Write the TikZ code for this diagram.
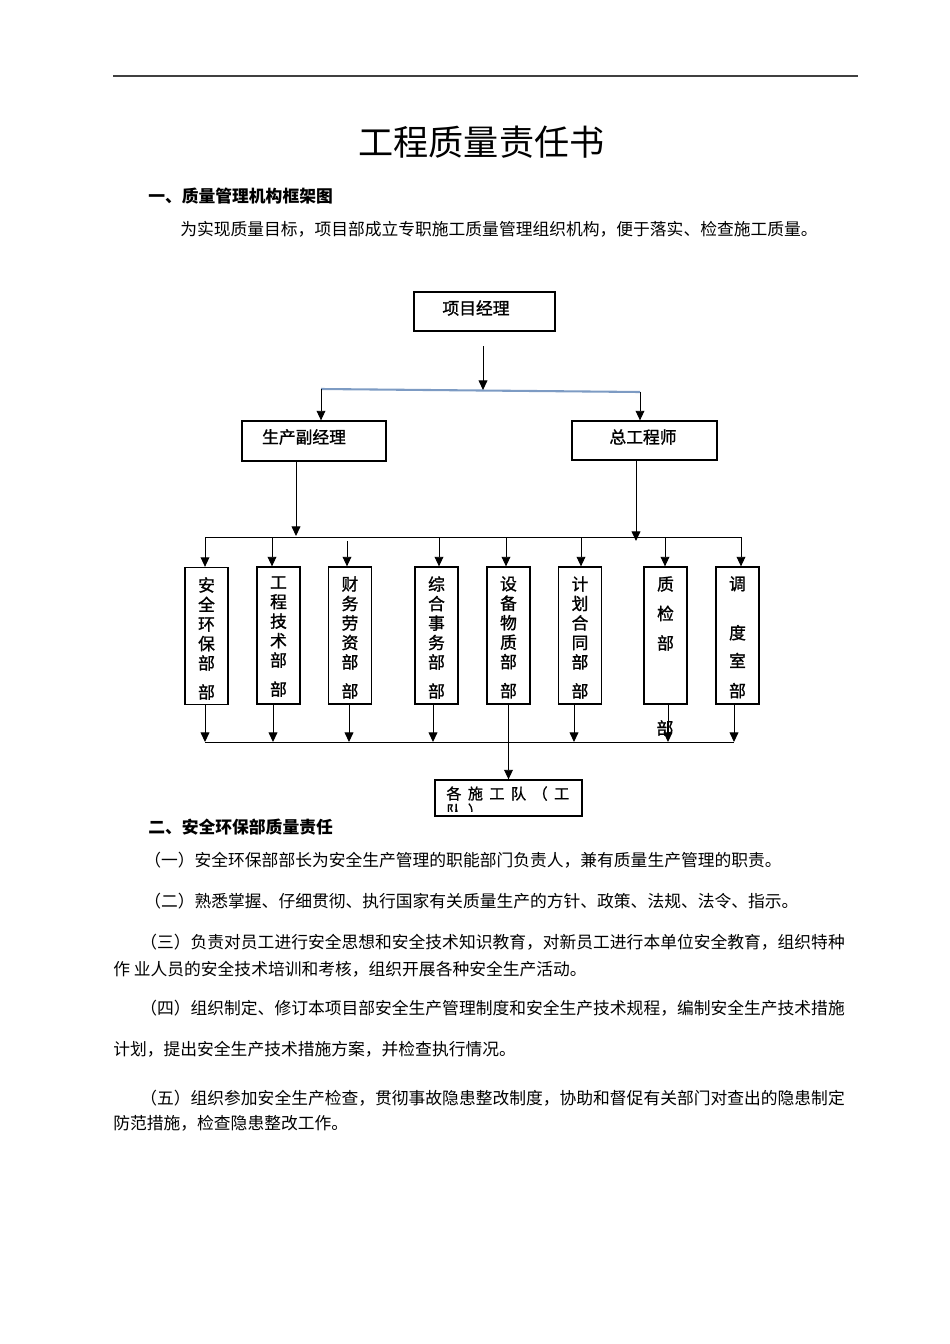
\documentclass[tikz,border=0pt]{standalone}
\usepackage{fontspec}
\setmainfont{Noto Sans CJK SC}
\usetikzlibrary{arrows.meta}
\def\PX{0.626pt}
\tikzset{
  arr/.style={line width=0.6pt, -{Triangle[length=6pt,width=5.5pt]}},
  conn/.style={line width=0.6pt},
  bluebar/.style={line width=1.3pt, draw={rgb,255:red,125;green,155;blue,195}},
  hbox/.style={draw, line width=0.8pt, inner sep=0pt},
  vbox/.style={draw, line width=0.8pt, inner sep=0pt, minimum width={43*\PX}, minimum height={137*\PX}},
  lbl/.style={inner sep=0pt, font=\fontsize{10.5pt}{12.6pt}\selectfont\addfontfeature{FakeBold=1.2}},
  vlbl/.style={inner sep=0pt, anchor=north, align=center, font=\fontsize{10.5pt}{12.2pt}\selectfont\addfontfeature{FakeBold=1.2}},
  body/.style={inner sep=0pt, anchor=west, font=\fontsize{10.5pt}{12.6pt}\selectfont},
  head/.style={inner sep=0pt, anchor=west, font=\fontsize{10.5pt}{12.6pt}\selectfont\bfseries},
}
\begin{document}
\begin{tikzpicture}[x=0.626pt, y=-0.626pt]
\useasboundingbox (0,0) rectangle (950,1344);
% top rule
\coordinate (r1) at (113,76);
\coordinate (r2) at (858,76);
\draw[line width=1.2pt, draw=black!75] (r1) -- (r2);
% title and headings
\node[inner sep=0pt, font=\fontsize{22pt}{26pt}\selectfont] (title) at (481.5,142) {工程质量责任书};
\node[head] (h1) at (148,196) {一、质量管理机构框架图};
\node[body] (p0) at (180,229) {为实现质量目标，项目部成立专职施工质量管理组织机构，便于落实、检查施工质量。};

% boxes
\node[hbox, minimum width={141*\PX}, minimum height={39*\PX}] (pm) at (484.5,311.5) {};
\node[lbl] (pmt) at (476,308) {项目经理};
\node[hbox, minimum width={144*\PX}, minimum height={40*\PX}] (dep) at (314,441) {};
\node[lbl] (dept) at (304,437) {生产副经理};
\node[hbox, minimum width={145*\PX}, minimum height={39*\PX}] (ce) at (644.5,440.5) {};
\node[lbl] (cet) at (643,437) {总工程师};

\node[vbox] (b1) at (206.5,636) {};
\node[vbox] (b2) at (278.5,635.5) {};
\node[vbox] (b3) at (350,635.5) {};
\node[vbox] (b4) at (436.5,635.5) {};
\node[vbox] (b5) at (508.5,635.5) {};
\node[vbox] (b6) at (580,635.5) {};
\node[vbox] (b7) at (665.5,635.5) {};
\node[vbox] (b8) at (737.5,635.5) {};

\node[vlbl] (b1t) at (206.5,577) {安\\全\\环\\保\\部\\[6pt]部};
\node[vlbl] (b2t) at (278.5,576) {工\\程\\技\\术\\部\\[6pt]部};
\node[vlbl] (b3t) at (350,576) {财\\务\\劳\\资\\部\\[6pt]部};
\node[vlbl] (b4t) at (436.5,576) {综\\合\\事\\务\\部\\[6pt]部};
\node[vlbl] (b5t) at (508.5,576) {设\\备\\物\\质\\部\\[6pt]部};
\node[vlbl] (b6t) at (580,576) {计\\划\\合\\同\\部\\[6pt]部};
\node[vlbl] (b7t) at (665.5,576) {质\\[6.3pt]检\\[6.3pt]部};
\node[vlbl] (b8t) at (737.5,576) {调\\[18.5pt]度\\[5.3pt]室\\[6.6pt]部};
\node[lbl] (b7x) at (665,728) {部};

\node[hbox, minimum width={147*\PX}, minimum height={36*\PX}] (team) at (508.5,798) {};
\begin{scope}
\clip (436,781) rectangle (581,811);
\node[inner sep=0pt, anchor=north west, align=left, font=\fontsize{9.5pt}{10.8pt}\selectfont\addfontfeature{LetterSpace=42,FakeBold=1}] (teamt) at (446,786) {各施工队（工\\队）};
\end{scope}

% connectors: top level
\coordinate (p1) at (483,346);
\coordinate (p2) at (483,390);
\coordinate (bl) at (321,389);
\coordinate (br) at (640,392);
\draw[bluebar] (bl) -- (br);
\draw[arr] (p1) -- (p2);
\draw[arr] (bl) -- (bl |- dep.north);
\draw[arr] (br) -- (br |- ce.north);

% to department bus
\coordinate (d1) at (296,536);
\coordinate (c1) at (636,541);
\draw[arr] (d1 |- dep.south) -- (d1);
\draw[arr] (c1 |- ce.south) -- (c1);

\coordinate (t1) at (205,537);
\coordinate (t2) at (272,537);
\coordinate (t3) at (347,541);
\coordinate (t4) at (439,537);
\coordinate (t5) at (506,537);
\coordinate (t6) at (581,537);
\coordinate (t7) at (665,538);
\coordinate (t8) at (741,537);
\draw[conn] (t1) -- (t8);
\foreach \i in {1,...,8} {\draw[arr] (t\i) -- (t\i |- b\i.north);}

% bottom bus
\coordinate (u1) at (205,742);
\coordinate (u2) at (273,742);
\coordinate (u3) at (349,742);
\coordinate (u4) at (433,742);
\coordinate (u6) at (574,742);
\coordinate (u7) at (668,742);
\coordinate (u8) at (734,742);
\draw[conn] (u1) -- (u8);
\foreach \i in {1,2,3,4,6,7,8} {\draw[arr] (u\i |- b\i.south) -- (u\i);}
\draw[arr] (b5.south) -- (team.north);

% section two
\node[head] (h2) at (148,827) {二、安全环保部质量责任};
\node[body] (l1) at (144,860) {（一）安全环保部部长为安全生产管理的职能部门负责人，兼有质量生产管理的职责。};
\node[body] (l2) at (144,901) {（二）熟悉掌握、仔细贯彻、执行国家有关质量生产的方针、政策、法规、法令、指示。};
\node[body] (l3) at (140,942) {（三）负责对员工进行安全思想和安全技术知识教育，对新员工进行本单位安全教育，组织特种};
\node[body] (l3b) at (113,969) {作 业人员的安全技术培训和考核，组织开展各种安全生产活动。};
\node[body] (l4) at (140,1008) {（四）组织制定、修订本项目部安全生产管理制度和安全生产技术规程，编制安全生产技术措施};
\node[body] (l4b) at (113,1049) {计划，提出安全生产技术措施方案，并检查执行情况。};
\node[body] (l5) at (140,1098) {（五）组织参加安全生产检查，贯彻事故隐患整改制度，协助和督促有关部门对查出的隐患制定};
\node[body] (l5b) at (113,1123) {防范措施，检查隐患整改工作。};
\end{tikzpicture}
\end{document}
